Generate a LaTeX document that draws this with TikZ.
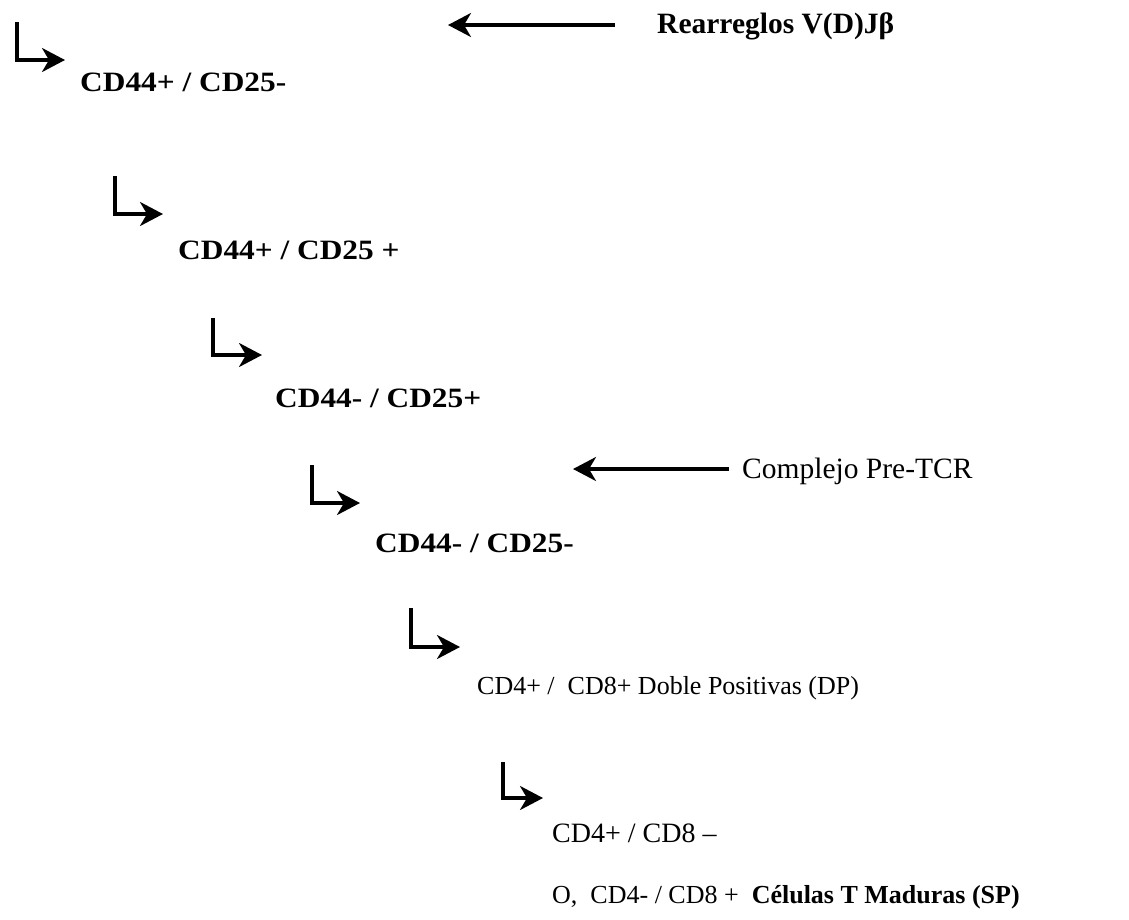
\documentclass[tikz,border=0pt]{standalone}
\usepackage{fontspec}
\setmainfont{Liberation Serif}
\usetikzlibrary{arrows.meta}
\begin{document}
\begin{tikzpicture}[x=1pt,y=-1pt,
  lbl/.style={anchor=base west,inner sep=0pt,font=\fontsize{28}{34}\selectfont},
  wide/.style={lbl,xscale=1.12,transform shape,font=\fontsize{28}{34}\selectfont\bfseries},
  bent/.style={line width=3.2pt,-{Stealth[length=23pt,width=24pt,inset=7pt]}},
  larrow/.style={line width=3.2pt,-{Stealth[length=23pt,width=24pt,inset=7pt]}}]
\useasboundingbox (0,0) rectangle (1129,919);
% text nodes
\node[wide] (t1) at (80,91) {CD44+ / CD25-};
\node[wide] (t2) at (178,259) {CD44+ / CD25 +};
\node[wide] (t3) at (275,407) {CD44- / CD25+};
\node[wide] (t4) at (375,552) {CD44- / CD25-};
\node[lbl,font=\fontsize{26}{32}\selectfont] (t5) at (477,694) {CD4+ /\ \ CD8+ Doble Positivas (DP)};
\node[lbl] (t6) at (552,842) {CD4+ / CD8 --};
\node[lbl,font=\fontsize{26}{32}\selectfont] (t7) at (552,903) {O,\ \ CD4- / CD8 +\ \ \textbf{Células T Maduras (SP)}};
\node[lbl,font=\fontsize{29.5}{35}\selectfont\bfseries] (r) at (657,33) {Rearreglos V(D)Jβ};
\node[lbl,font=\fontsize{29.5}{35}\selectfont] (c) at (742,478) {Complejo Pre-TCR};
% bent arrows
\coordinate (a1s) at (17,22);  \coordinate (a1e) at (65,60);
\coordinate (a2s) at (115,176); \coordinate (a2e) at (163,214);
\coordinate (a3s) at (213,318); \coordinate (a3e) at (262,355);
\coordinate (a4s) at (312,465); \coordinate (a4e) at (360,503);
\coordinate (a5s) at (411,608); \coordinate (a5e) at (460,647);
\coordinate (a6s) at (503,762); \coordinate (a6e) at (543,798);
\foreach \i in {1,...,6} {\draw[bent] (a\i s) |- (a\i e);}
% left arrows
\coordinate (rt) at (615,25); \coordinate (rh) at (448,25);
\coordinate (ct) at (729,469); \coordinate (ch) at (573,469);
\draw[larrow] (rt) -- (rh);
\draw[larrow] (ct) -- (ch);
\end{tikzpicture}
\end{document}
